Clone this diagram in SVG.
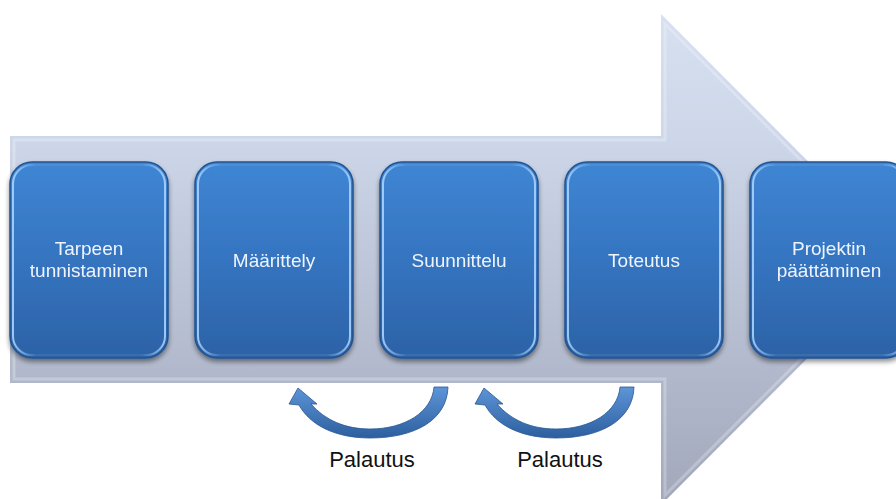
<svg xmlns="http://www.w3.org/2000/svg" width="896" height="499" viewBox="0 0 896 499">
  <defs>
    <linearGradient id="arrowGrad" x1="0" y1="14" x2="0" y2="505" gradientUnits="userSpaceOnUse">
      <stop offset="0" stop-color="#d6e0f0"/>
      <stop offset="0.25" stop-color="#cdd7e9"/>
      <stop offset="0.75" stop-color="#b0b7ca"/>
      <stop offset="1" stop-color="#a2a8ba"/>
    </linearGradient>
    <linearGradient id="boxGrad" x1="0" y1="0" x2="0" y2="1">
      <stop offset="0" stop-color="#3f86d4"/>
      <stop offset="0.5" stop-color="#3574c0"/>
      <stop offset="1" stop-color="#2c62a6"/>
    </linearGradient>
    <linearGradient id="hiGrad" x1="0" y1="0" x2="1" y2="0">
      <stop offset="0" stop-color="#a9d3ff" stop-opacity="0.9"/>
      <stop offset="0.15" stop-color="#a9d3ff" stop-opacity="0.1"/>
      <stop offset="0.85" stop-color="#a9d3ff" stop-opacity="0.1"/>
      <stop offset="1" stop-color="#a9d3ff" stop-opacity="0.9"/>
    </linearGradient>
    <linearGradient id="curveGrad" x1="0" y1="0" x2="0" y2="1">
      <stop offset="0" stop-color="#5d95d8"/>
      <stop offset="1" stop-color="#2d5f9f"/>
    </linearGradient>
    <filter id="shadow" x="-10%" y="-10%" width="120%" height="125%">
      <feGaussianBlur in="SourceAlpha" stdDeviation="2.5"/>
      <feOffset dx="0" dy="3" result="b"/>
      <feComponentTransfer><feFuncA type="linear" slope="0.45"/></feComponentTransfer>
      <feMerge><feMergeNode/><feMergeNode in="SourceGraphic"/></feMerge>
    </filter>
    <style>
      .box { fill: url(#boxGrad); stroke: #23538f; stroke-width: 1.5; }
      .hi { fill: none; stroke: url(#hiGrad); stroke-width: 2; }
      .lbl { font-family: "Liberation Sans", Arial, sans-serif; font-size: 19px; fill: #eef4fc; text-anchor: middle; }
      .fb { font-family: "Liberation Sans", Arial, sans-serif; font-size: 22px; fill: #111111; text-anchor: middle; }
      .curve { fill: url(#curveGrad); stroke: #2a5890; stroke-width: 0.8; }
    </style>
  </defs>

  <rect width="896" height="499" fill="#ffffff"/>

  <!-- big background arrow -->
  <g id="process-arrow">
    <polygon points="10,136 661,136 661,14 906,259.5 661,505 661,383 10,383" fill="url(#arrowGrad)"/>
    <polygon points="14,140 665,140 665,24 900,259.5 665,495 665,379 14,379" fill="none" stroke="#ffffff" stroke-opacity="0.25" stroke-width="3"/>
  </g>

  <g id="node-tarpeen" filter="url(#shadow)">
    <rect class="box" x="10" y="162" width="158" height="196" rx="22"/>
    <rect class="hi" x="13" y="165" width="152" height="190" rx="19"/>
    <text class="lbl" x="89" y="255">Tarpeen</text>
    <text class="lbl" x="89" y="277">tunnistaminen</text>
  </g>

  <g id="node-maarittely" filter="url(#shadow)">
    <rect class="box" x="195" y="162" width="158" height="196" rx="22"/>
    <rect class="hi" x="198" y="165" width="152" height="190" rx="19"/>
    <text class="lbl" x="274" y="267">Määrittely</text>
  </g>

  <g id="node-suunnittelu" filter="url(#shadow)">
    <rect class="box" x="380" y="162" width="158" height="196" rx="22"/>
    <rect class="hi" x="383" y="165" width="152" height="190" rx="19"/>
    <text class="lbl" x="459" y="267">Suunnittelu</text>
  </g>

  <g id="node-toteutus" filter="url(#shadow)">
    <rect class="box" x="565" y="162" width="158" height="196" rx="22"/>
    <rect class="hi" x="568" y="165" width="152" height="190" rx="19"/>
    <text class="lbl" x="644" y="267">Toteutus</text>
  </g>

  <g id="node-paattaminen" filter="url(#shadow)">
    <rect class="box" x="750" y="162" width="158" height="196" rx="22"/>
    <rect class="hi" x="753" y="165" width="152" height="190" rx="19"/>
    <text class="lbl" x="829" y="255">Projektin</text>
    <text class="lbl" x="829" y="277">päättäminen</text>
  </g>

  <g id="connectors">
    <path id="feedback-1" class="curve" d="M 298 388 L 317 404 L 311 404 C 325 420 345 429 370 429 C 405 429 432 412 434 387 L 448 387 C 447 420 415 438 370 438 C 335 438 310 425 299 405 L 289 404 Z"/>
    <path id="feedback-2" class="curve" transform="translate(186,0)" d="M 298 388 L 317 404 L 311 404 C 325 420 345 429 370 429 C 405 429 432 412 434 387 L 448 387 C 447 420 415 438 370 438 C 335 438 310 425 299 405 L 289 404 Z"/>
    <text class="fb" x="372" y="467">Palautus</text>
    <text class="fb" x="560" y="467">Palautus</text>
  </g>
</svg>
